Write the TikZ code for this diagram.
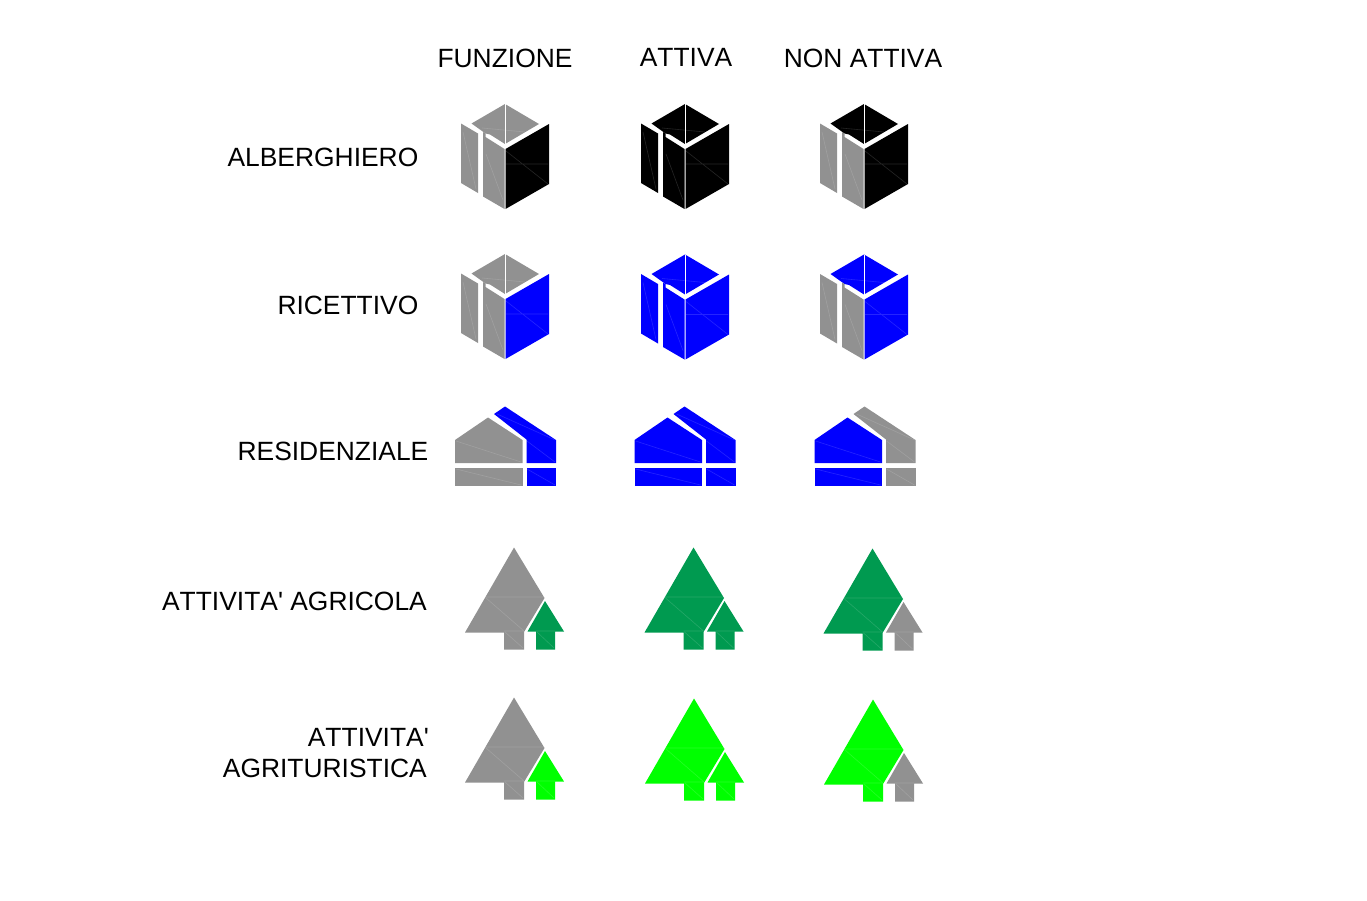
\documentclass[tikz,border=0pt]{standalone}
\usepackage{fontspec}
\setmainfont[Ligatures=TeXOff,Kerning=Off]{Liberation Sans}
\definecolor{gr}{HTML}{919191}
\definecolor{tree}{HTML}{009A50}
\definecolor{lime}{HTML}{00FF00}
\definecolor{blu}{HTML}{0000FF}
\tikzset{
  lab/.style={inner sep=0pt,font=\fontsize{26.4}{30}\selectfont,text=black},
  seam/.style={white,line width=0.9pt},
  faint/.style={white,opacity=0.14,line width=0.6pt}
}
% #1 x-shift, #2 y-shift, #3 top, #4 left, #5 right
\newcommand{\cubeicon}[5]{%
\begin{scope}[shift={(#1,#2)}]
\fill[#3] (0,0)--(34,20)--(0,40)--(-15,30.5)--(-19.5,29.5)--(-33.5,19.5)--cycle;
\fill[#4] (-44,19.5)--(-27,29.5)--(-27,89)--(-44,79)--cycle;
\fill[#4] (-22,28)--(-19.5,29.5)--(-19.5,33)--(-0.5,45)--(-0.5,105)--(-22,92.5)--cycle;
\fill[#5] (0.5,45)--(44,20)--(44,80)--(0.5,105)--cycle;
\draw[seam] (0,0)--(0,40);
\draw[faint] (-42,28)--(-29,85) (-19,50)--(-2,96) (1,47)--(43,80) (-23,24)--(20,28) (1,60)--(43,60);
\end{scope}}
% #1 x-shift, #2 y-shift, #3 left, #4 right
\newcommand{\houseicon}[4]{%
\begin{scope}[shift={(#1,#2)}]
\fill[#3] (455,440)--(488,417.5)--(522.5,440)--(522.5,463)--(455,463)--cycle;
\fill[#3] (455,467.5)--(522.5,467.5)--(522.5,486)--(455,486)--cycle;
\fill[#4] (494,414)--(505,406.5)--(556,440)--(556,463)--(526.5,463)--(526.5,439.5)--cycle;
\fill[#4] (526.5,467.5)--(556,467.5)--(556,486)--(526.5,486)--cycle;
\draw[faint] (456,441)--(521,462) (456,469)--(521,485) (527,441)--(555,462) (527,469)--(555,485) (497,414)--(555,440);
\end{scope}}
% #1 x-shift, #2 y-shift, #3 big, #4 small
\newcommand{\treeicon}[4]{%
\begin{scope}[shift={(#1,#2)}]
\fill[#3] (514,547.5)--(544.5,598)--(524,632)--(524,649.5)--(504,649.5)--(504,632.5)--(465,632.5)--cycle;
\fill[#4] (545,601)--(564,631.5)--(555,631.5)--(555,649.5)--(536,649.5)--(536,631.5)--(527.5,631.5)--cycle;
\draw[faint] (485,597)--(544,597) (486,598)--(524,631) (504,631)--(524,631) (505,632)--(523,648) (536,631)--(555,631) (537,632)--(554,648);
\end{scope}}
\begin{document}
\begin{tikzpicture}[x=1pt,y=-1pt]
\useasboundingbox (0,0) rectangle (1367,900);
\node[lab] (hfun) at (505,58.2) {FUNZIONE};
\node[lab] (hatt) at (686,57.2) {ATTIVA};
\node[lab] (hnon) at (863,58.2) {NON ATTIVA};
\node[lab,anchor=east] (lalb) at (418.5,157.2) {ALBERGHIERO};
\node[lab,anchor=east] (lric) at (418.5,305.2) {RICETTIVO};
\node[lab,anchor=east] (lres) at (428.5,451.2) {RESIDENZIALE};
\node[lab,anchor=east] (lagr) at (427,601.2) {ATTIVITA' AGRICOLA};
\node[lab,anchor=east] (lat) at (429,737.2) {ATTIVITA'};
\node[lab,anchor=east] (lagt) at (427,768.2) {AGRITURISTICA};
\cubeicon{505}{104}{gr}{gr}{black}
\cubeicon{685}{104}{black}{black}{black}
\cubeicon{864}{104}{black}{gr}{black}
\cubeicon{505}{254}{gr}{gr}{blu}
\cubeicon{685}{254.5}{blu}{blu}{blu}
\cubeicon{864}{254.5}{blu}{gr}{blu}
\houseicon{0}{0}{gr}{blu}
\houseicon{179.5}{0}{blu}{blu}
\houseicon{359.5}{0}{blu}{gr}
\treeicon{0}{0}{gr}{tree}
\treeicon{179.5}{0}{tree}{tree}
\treeicon{358.5}{1}{tree}{gr}
\treeicon{0}{150}{gr}{lime}
\treeicon{180}{151}{lime}{lime}
\treeicon{359}{152}{lime}{gr}
\end{tikzpicture}
\end{document}
